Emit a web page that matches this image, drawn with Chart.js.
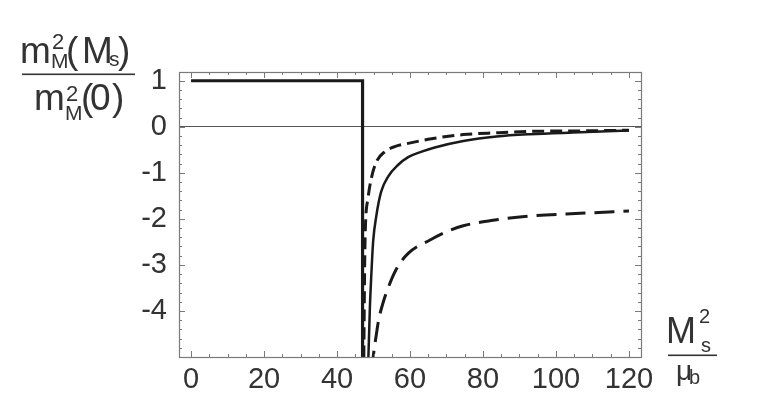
<!DOCTYPE html>
<html>
<head>
<meta charset="utf-8">
<script src="https://cdn.jsdelivr.net/npm/chart.js@4.4.1/dist/chart.umd.min.js"></script>
<style>
  html, body { margin: 0; padding: 0; background: #fff; }
</style>
</head>
<body>
<canvas id="chart" width="763" height="418"></canvas>
<script>
const xTicks = [0, 20, 40, 60, 80, 100, 120];
const yTicks = [1, 0, -1, -2, -3, -4];

// thick step: 1 up to the threshold, then straight down
const stepX = [0, 47, 47];
const stepY = [1, 1, -5.5];

// solid curve
const solidX = [48.4, 48.6, 49.0, 49.4, 49.9, 50.8, 52.1, 54.0, 56.7, 59.5, 63.2, 66.8, 74.6, 83.7, 92.9, 106.6, 120];
const solidY = [-5.4, -5.0, -3.94, -3.22, -2.49, -1.92, -1.41, -1.08, -0.83, -0.66, -0.54, -0.45, -0.31, -0.21, -0.16, -0.12, -0.08];

// short dashes, close to zero
const shortX = [47.3, 47.6, 47.8, 48.5, 49.4, 50.8, 53.1, 55.8, 59.5, 65.9, 74.6, 83.7, 92.9, 106.6, 120];
const shortY = [-5.4, -2.85, -2.13, -1.55, -1.12, -0.76, -0.54, -0.43, -0.36, -0.26, -0.17, -0.13, -0.10, -0.09, -0.075];

// long dashes, lower curve
const longX = [49.6, 50.0, 50.8, 51.4, 52.7, 54.0, 56.2, 59.5, 65.5, 70, 74.6, 83.7, 92.9, 106.6, 120];
const longY = [-5.3, -4.95, -4.5, -4.2, -3.8, -3.5, -3.1, -2.75, -2.46, -2.28, -2.15, -2.02, -1.94, -1.88, -1.83];

const pts = (xs, ys) => xs.map((x, i) => ({ x: x, y: ys[i] }));
const FONT = '"Liberation Sans", Arial, sans-serif';

// box with inward ticks on all four sides
const framePlugin = {
    id: "frame",
    afterDatasetsDraw(chart) {
        const c = chart.ctx;
        const a = chart.chartArea;
        const sx = chart.scales.x;
        const sy = chart.scales.y;
        c.save();
        c.strokeStyle = "#7a7a7a";
        c.lineWidth = 1.2;
        c.strokeRect(a.left + 0.5, a.top + 0.5, a.right - a.left, a.bottom - a.top);
        c.lineWidth = 1;
        c.beginPath();
        for (let v = 0; v <= 120; v += 5) {
            const px = Math.round(sx.getPixelForValue(v)) + 0.5;
            const len = v % 20 === 0 ? 6 : 3;
            c.moveTo(px, a.bottom); c.lineTo(px, a.bottom - len);
            c.moveTo(px, a.top); c.lineTo(px, a.top + len);
        }
        for (let k = -25; k <= 5; k++) {
            const v = k / 5;
            const py = Math.round(sy.getPixelForValue(v)) + 0.5;
            const len = k % 5 === 0 ? 6 : 3;
            c.moveTo(a.left, py); c.lineTo(a.left + len, py);
            c.moveTo(a.right, py); c.lineTo(a.right - len, py);
        }
        c.stroke();
        c.restore();
    },
};

// axis titles written as fractions
const titlePlugin = {
    id: "titles",
    afterDraw(chart) {
        const c = chart.ctx;
        c.save();
        c.fillStyle = "#333";
        c.textBaseline = "alphabetic";
        const put = (t, x, y, s) => { c.font = s + "px " + FONT; c.fillText(t, x, y); };

        put("m", 20, 63, 37);
        put("2", 52, 49, 22);
        put("M", 51, 68, 21);
        put("(", 66, 63, 37);
        put("M", 82, 63, 37);
        put("s", 109, 66, 21);
        put(")", 118, 63, 37);
        c.fillRect(22, 73.5, 113, 1.6);
        put("m", 34, 110, 37);
        put("2", 66, 101, 22);
        put("M", 65, 120, 21);
        put("(", 81, 110, 37);
        put("0", 90, 110, 37);
        put(")", 112, 110, 37);

        put("M", 666, 343, 36);
        put("2", 699, 323, 20);
        put("s", 701, 352, 20);
        c.fillRect(668, 354.5, 49, 1.6);
        put("\u03bc", 676, 380, 28);
        put("b", 689, 384, 20);
        c.restore();
    },
};

new Chart(document.getElementById("chart").getContext("2d"), {
    type: "scatter",
    data: {
        datasets: [
            {
                label: "step",
                data: pts(stepX, stepY),
                showLine: true,
                borderColor: "#1a1a1a",
                borderWidth: 3.2,
                pointRadius: 0,
                tension: 0,
            },
            {
                label: "solid",
                data: pts(solidX, solidY),
                showLine: true,
                borderColor: "#1a1a1a",
                borderWidth: 2.5,
                pointRadius: 0,
                cubicInterpolationMode: "monotone",
            },
            {
                label: "short dashes",
                data: pts(shortX, shortY),
                showLine: true,
                borderColor: "#1a1a1a",
                borderWidth: 3,
                borderDash: [12, 6],
                pointRadius: 0,
                cubicInterpolationMode: "monotone",
            },
            {
                label: "long dashes",
                data: pts(longX, longY),
                showLine: true,
                borderColor: "#1a1a1a",
                borderWidth: 3,
                borderDash: [20, 9],
                pointRadius: 0,
                cubicInterpolationMode: "monotone",
            },
        ],
    },
    options: {
        responsive: false,
        animation: false,
        layout: { padding: { left: 0, right: 122, top: 72, bottom: 0 } },
        plugins: { legend: { display: false }, tooltip: { enabled: false } },
        scales: {
            x: {
                type: "linear",
                min: -3.3,
                max: 123.3,
                afterBuildTicks: (s) => { s.ticks = xTicks.map((v) => ({ value: v })); },
                afterFit: (s) => { s.height = 61; },
                grid: { display: false, drawTicks: false },
                border: { display: false },
                ticks: {
                    padding: 6,
                    color: "#333",
                    maxRotation: 0,
                    autoSkip: false,
                    font: { family: FONT, size: 29 },
                    callback: (v) => String(v),
                },
            },
            y: {
                type: "linear",
                min: -5,
                max: 1.19,
                afterBuildTicks: (s) => { s.ticks = yTicks.map((v) => ({ value: v })); },
                afterFit: (s) => { s.width = 179; },
                grid: {
                    drawTicks: false,
                    lineWidth: 1,
                    color: (c) => (c.tick && c.tick.value === 0 ? "#555" : "rgba(0,0,0,0)"),
                },
                border: { display: false },
                ticks: {
                    padding: 12,
                    color: "#333",
                    autoSkip: false,
                    font: { family: FONT, size: 29 },
                    callback: (v) => String(v),
                },
            },
        },
    },
    plugins: [framePlugin, titlePlugin],
});
</script>
</body>
</html>
